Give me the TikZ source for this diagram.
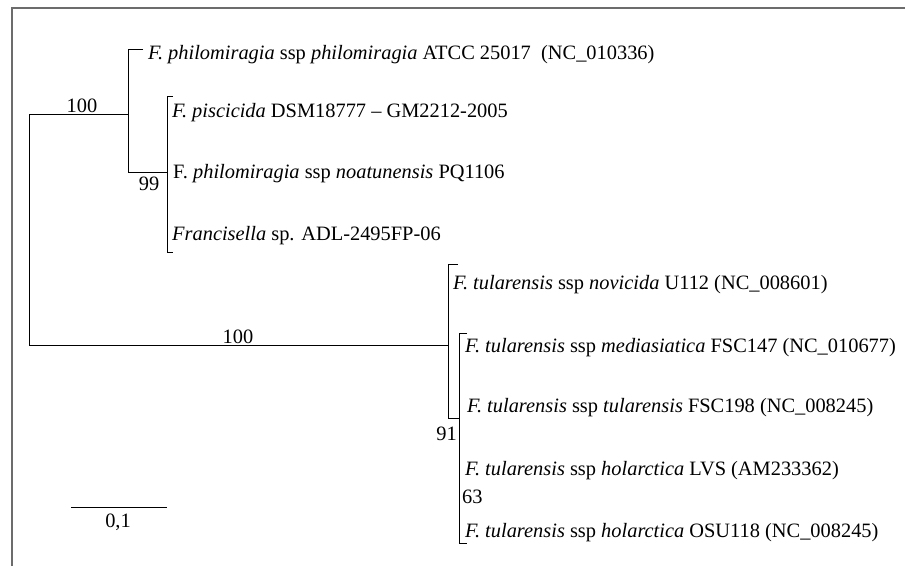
\documentclass[tikz,border=0pt]{standalone}
\usepackage{fontspec}
\setmainfont{Liberation Serif}
\usetikzlibrary{calc}

\begin{document}
\begin{tikzpicture}[x=1pt,y=-1pt,
    branch/.style={line width=1pt},
    leaf/.style={anchor=base west,inner sep=0pt,font=\fontsize{20.4}{22}\selectfont},
    boot/.style={anchor=base,inner sep=0pt,font=\fontsize{20.4}{22}\selectfont}]
      \useasboundingbox (0,0) rectangle (905,566);
      \draw[gray!85!black,line width=1.5pt] (12,566)--(12,8)--(905,8);

      % inner nodes of the tree
      \coordinate (R1) at (29,114);
      \coordinate (R2) at (29,345);
      \coordinate (A) at (128,114);
      \coordinate (B) at (167,172);
      \coordinate (C) at (448,345);
      \coordinate (D) at (459,418);

      % root and the two big clades
      \draw[branch] (A)--(R1)--(R2)--(C);
      \node[boot] (b1) at (82,112) {100};
      \node[boot] (b2) at (238,343) {100};

      % philomiragia clade
      \draw[branch] ($(A)+(15,-65)$)--($(A)+(0,-65)$)--($(A)+(0,58)$)--(B);
      \draw[branch] ($(B)+(6,-76)$)--($(B)+(0,-76)$)--($(B)+(0,80)$)--($(B)+(6,80)$);
      \node[boot] (b3) at (149,190) {99};
      \node[leaf] (l1) at (148,59) {\textit{F. philomiragia} ssp \textit{philomiragia} ATCC 25017\ \ (NC\_010336)};
      \node[leaf] (l2) at (172,117) {\textit{F. piscicida} DSM18777 -- GM2212-2005};
      \node[leaf] (l3) at (173,178) {F. \textit{philomiragia} ssp \textit{noatunensis} PQ1106};
      \node[leaf] (l4) at (172,240) {\textit{Francisella} sp. ADL-2495FP-06};

      % tularensis clade
      \draw[branch] ($(C)+(10,-81)$)--($(C)+(0,-81)$)--($(C)+(0,73)$)--(D);
      \draw[branch] ($(D)+(8,-85)$)--($(D)+(0,-85)$)--($(D)+(0,125)$)--($(D)+(8,125)$);
      \node[boot,anchor=base east] (b4) at (457,440) {91};
      \node[boot,anchor=base west] (b5) at (462,503) {63};
      \node[leaf] (l5) at (453,289) {\textit{F. tularensis} ssp \textit{novicida} U112 (NC\_008601)};
      \node[leaf] (l6) at (465,352) {\textit{F. tularensis} ssp \textit{mediasiatica} FSC147 (NC\_010677)};
      \node[leaf] (l7) at (467,412) {\textit{F. tularensis} ssp \textit{tularensis} FSC198 (NC\_008245)};
      \node[leaf] (l8) at (465,475) {\textit{F. tularensis} ssp \textit{holarctica} LVS (AM233362)};
      \node[leaf] (l9) at (465,537) {\textit{F. tularensis} ssp \textit{holarctica} OSU118 (NC\_008245)};

      % scale bar
      \coordinate (S1) at (71,507.5);
      \coordinate (S2) at (167,507.5);
      \draw[branch] (S1)--(S2);
      \node[boot] (sc) at (118,527) {0,1};
\end{tikzpicture}
\end{document}
